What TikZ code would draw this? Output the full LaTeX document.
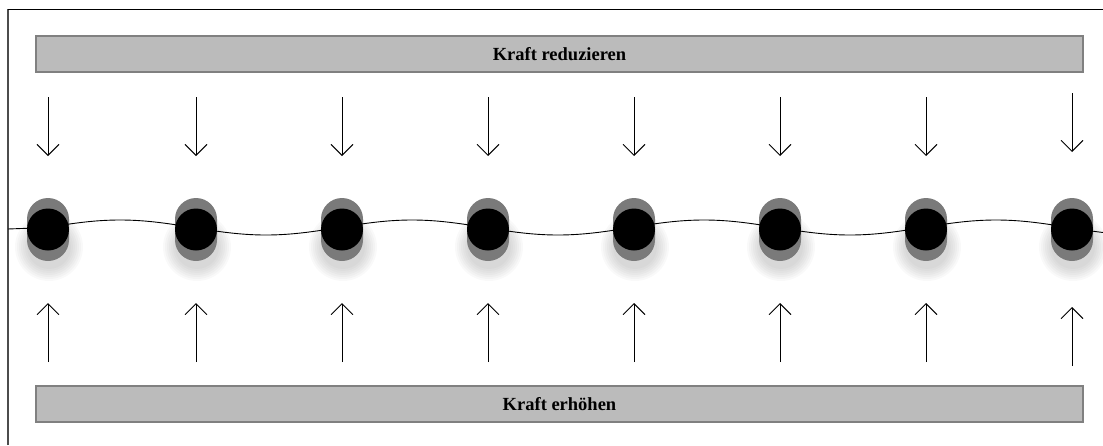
\documentclass[tikz,border=0pt]{standalone}
\usepackage{fontspec}
\setmainfont{Liberation Serif}
\usetikzlibrary{arrows.meta}
\definecolor{barfill}{HTML}{BBBBBB}
\definecolor{barline}{HTML}{808080}
\definecolor{blurgray}{HTML}{7A7A7A}
\tikzset{
  bar/.style={draw=barline, line width=1.6pt, fill=barfill, minimum width=1047pt, minimum height=36pt, inner sep=0pt, font=\fontsize{18.5}{22}\selectfont\bfseries},
  ball/.style={circle, fill=black, minimum size=42pt, inner sep=0pt},
  force/.style={line width=0.9pt, -{Straight Barb[length=11pt, width=22pt, line width=0.9pt]}},
  wave/.style={line width=0.9pt}
}
\begin{document}
\begin{tikzpicture}[x=1pt,y=-1pt]
\useasboundingbox (0,0) rectangle (1103,445);
% frame
\draw[line width=1.5pt, color=black!70] (8,445) -- (8,9);
\draw[line width=1pt] (8,9) -- (1103,9);
% bars
\node[bar] (top) at (559.5,54) {Kraft reduzieren};
\node[bar] (bottom) at (559.5,404) {Kraft erhöhen};
% shadows and motion blur
\foreach \i/\x in {1/48,2/196,3/342,4/488,5/634,6/780,7/926,8/1072}{
  \foreach \r in {22,24,...,34}{
    \fill[black, opacity=0.025] (\x+1,247) circle[radius=\r pt];
  }
  \fill[blurgray] (\x-21,219) -- (\x-21,240) arc[start angle=180, end angle=360, radius=21pt] -- (\x+21,219) arc[start angle=0, end angle=180, radius=21pt] -- cycle;
}
% wave
\coordinate (wstart) at (8,229);
\coordinate (c1) at (48,227.5);
\draw[wave] (wstart) -- (c1);
\draw[wave] plot[domain=48:1103, samples=200, smooth] (\x, {227.5-7.5*sin((\x-47)/292*360)});
% balls
\foreach \i/\x in {1/48,2/196,3/342,4/488,5/634,6/780,7/926,8/1072}{
  \node[ball] (b\i) at (\x,229.5) {};
}
% arrows
\foreach \i/\x in {1/48,2/196,3/342,4/488,5/634,6/780,7/926}{
  \coordinate (ds\i) at (\x,97);
  \coordinate (de\i) at (\x,156);
  \coordinate (us\i) at (\x,362);
  \coordinate (ue\i) at (\x,303);
  \draw[force] (ds\i) -- (de\i);
  \draw[force] (us\i) -- (ue\i);
}
\coordinate (ds8) at (1072,93);
\coordinate (de8) at (1072,152);
\coordinate (us8) at (1072,366);
\coordinate (ue8) at (1072,307);
\draw[force] (ds8) -- (de8);
\draw[force] (us8) -- (ue8);
\end{tikzpicture}
\end{document}
